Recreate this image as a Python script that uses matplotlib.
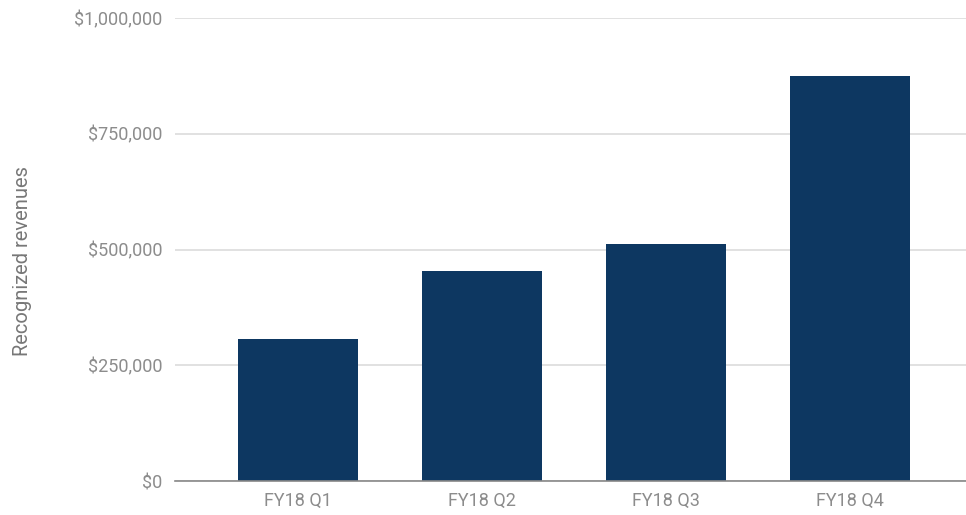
import matplotlib
matplotlib.use("Agg")
import matplotlib.pyplot as plt
from matplotlib.ticker import FuncFormatter

# Datos
trimestres = ["FY18 Q1", "FY18 Q2", "FY18 Q3", "FY18 Q4"]
ingresos = [307000, 454000, 512000, 875000]
marcas_y = [0, 250000, 500000, 750000, 1000000]

plt.rcParams['font.family'] = ['Roboto', 'DejaVu Sans']

fig = plt.figure(figsize=(9.66, 5.15), dpi=100)
ax = fig.add_axes([0.181, 0.066, 0.819, 0.899])

x = range(len(trimestres))
ax.bar(x, ingresos, width=0.65, color='#0d3761', zorder=3)

ax.set_xlim(-0.67, 3.63)
ax.set_ylim(0, 1000000)
ax.set_yticks(marcas_y)
ax.yaxis.set_major_formatter(FuncFormatter(lambda v, p: "${:,.0f}".format(v)))
ax.set_xticks(list(x))
ax.set_xticklabels(trimestres)

ax.grid(axis='y', color='#dcdcdc', linewidth=1.2, zorder=0)
for s in ['top', 'right', 'left']:
    ax.spines[s].set_visible(False)
ax.spines['bottom'].set_color('#888888')
ax.spines['bottom'].set_linewidth(1.2)
ax.spines['bottom'].set_zorder(4)

ax.tick_params(axis='both', length=0, colors='#8c8c8c', labelsize=13)
ax.tick_params(axis='y', pad=9)
ax.tick_params(axis='x', pad=8)

ax.set_ylabel("Recognized revenues", color='#777777', fontsize=14.5)
ax.yaxis.set_label_coords(-0.18, 0.475)

fig.savefig("out.png", dpi=100)
